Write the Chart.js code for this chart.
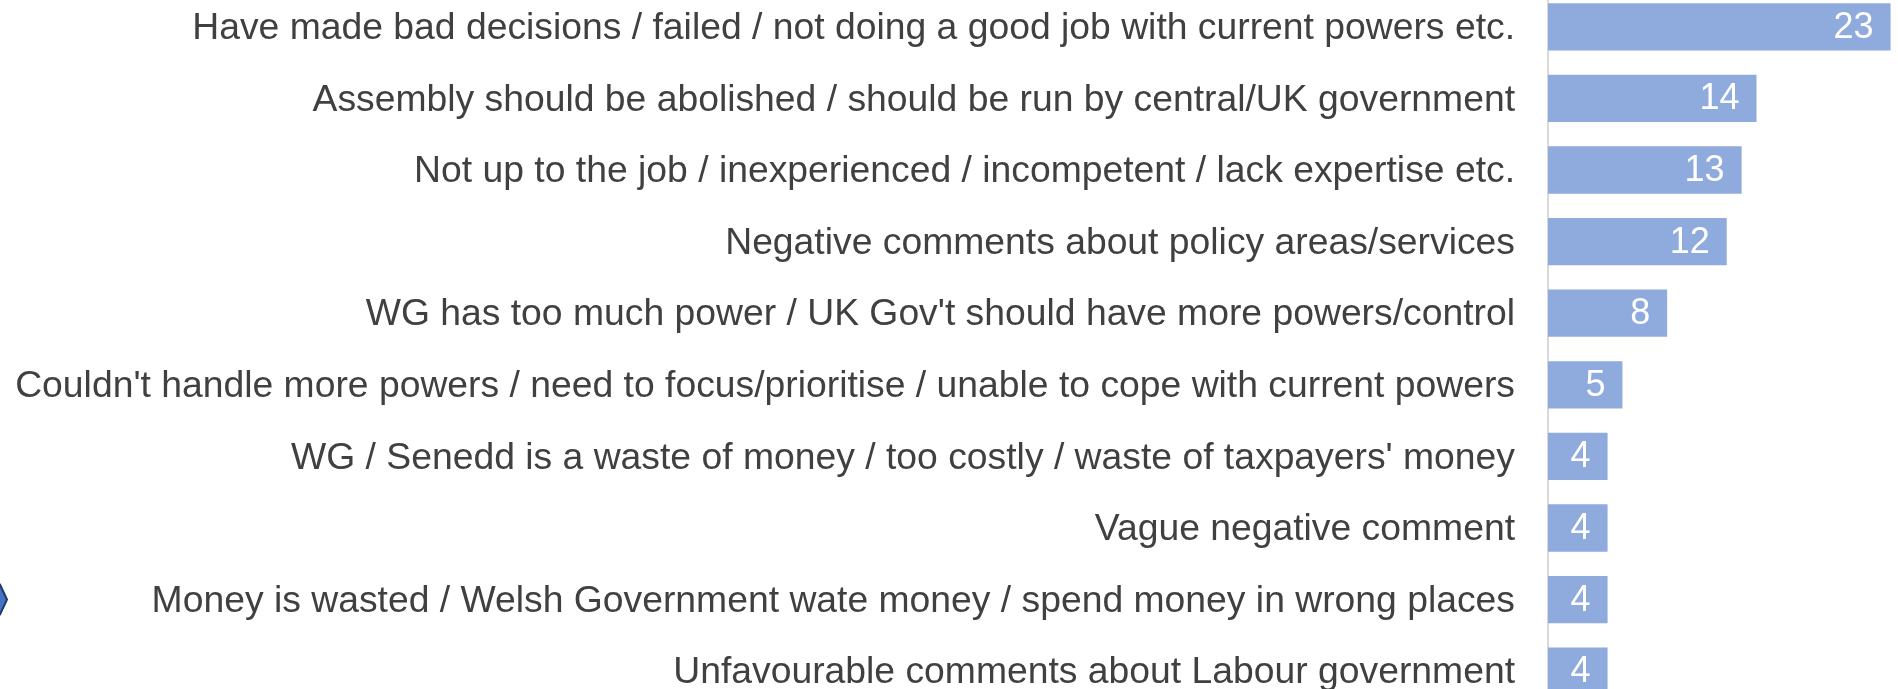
<!DOCTYPE html>
<html>
<head>
<meta charset="utf-8">
<script src="https://cdn.jsdelivr.net/npm/chart.js@4/dist/chart.umd.min.js"></script>
<style>
  html, body { margin: 0; padding: 0; background: #fff; overflow: hidden; }
  #wrap { position: absolute; left: 0; top: -9px; width: 1898px; height: 716px; }
</style>
</head>
<body>
<div id="wrap"><canvas id="barChart"></canvas></div>
<script>
// categories and counts
const kategoriler = [
    "Have made bad decisions / failed / not doing a good job with current powers etc.",
    "Assembly should be abolished / should be run by central/UK government",
    "Not up to the job / inexperienced / incompetent / lack expertise etc.",
    "Negative comments about policy areas/services",
    "WG has too much power / UK Gov't should have more powers/control",
    "Couldn't handle more powers / need to focus/prioritise / unable to cope with current powers",
    "WG / Senedd is a waste of money / too costly / waste of taxpayers' money",
    "Vague negative comment",
    "Money is wasted / Welsh Government wate money / spend money in wrong places",
    "Unfavourable comments about Labour government"
];
const degerler = [23, 14, 13, 12, 8, 5, 4, 4, 4, 4];

const FONT = '"Liberation Sans", Arial, sans-serif';

// white value labels inside the bar end
const degerEtiketi = {
    id: "degerEtiketi",
    afterDatasetsDraw(chart) {
        const ctx = chart.ctx;
        const meta = chart.getDatasetMeta(0);
        ctx.save();
        ctx.fillStyle = "#ffffff";
        ctx.font = "36px " + FONT;
        ctx.textAlign = "right";
        ctx.textBaseline = "middle";
        meta.data.forEach((bar, i) => {
            ctx.fillText(String(degerler[i]), bar.x - 17, bar.y + 1);
        });
        ctx.restore();
    }
};

// little chevron clipped at the left edge
const okIsareti = {
    id: "okIsareti",
    afterDraw(chart) {
        const ctx = chart.ctx;
        const y = chart.scales.y.getPixelForValue(8);
        ctx.save();
        ctx.beginPath();
        ctx.moveTo(-6, y - 15);
        ctx.lineTo(0, y - 15);
        ctx.lineTo(7, y);
        ctx.lineTo(0, y + 15);
        ctx.lineTo(-6, y + 15);
        ctx.closePath();
        ctx.fillStyle = "#4472c4";
        ctx.fill();
        ctx.lineWidth = 2;
        ctx.strokeStyle = "#1f3864";
        ctx.stroke();
        ctx.restore();
    }
};

new Chart(document.getElementById("barChart"), {
    type: "bar",
    data: {
        labels: kategoriler,
        datasets: [{
            data: degerler,
            backgroundColor: "#8faadc",
            barPercentage: 0.66,
            categoryPercentage: 1
        }]
    },
    options: {
        indexAxis: "y",
        responsive: true,
        maintainAspectRatio: false,
        animation: false,
        layout: { padding: 0 },
        plugins: {
            legend: { display: false },
            tooltip: { enabled: false }
        },
        scales: {
            x: {
                display: false,
                min: 0,
                max: 23.5
            },
            y: {
                afterFit(scale) {
                    scale.width = 1548;
                    scale.paddingTop = 0;
                    scale.paddingBottom = 0;
                },
                grid: { display: false, drawTicks: false },
                border: { display: true, color: "#d9d9d9", width: 2 },
                ticks: {
                    color: "#404040",
                    padding: 33,
                    labelOffset: 2,
                    font: { family: FONT, size: 37.3 }
                }
            }
        }
    },
    plugins: [degerEtiketi, okIsareti]
});
</script>
</body>
</html>
